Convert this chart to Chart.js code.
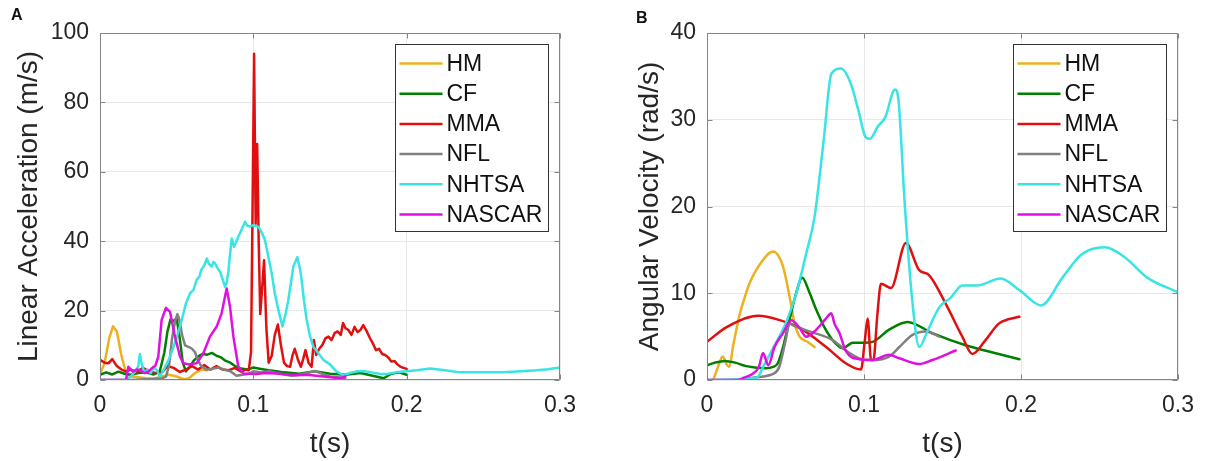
<!DOCTYPE html>
<html><head><meta charset="utf-8">
<script src="https://cdn.jsdelivr.net/npm/chart.js@4.4.1/dist/chart.umd.min.js"></script>
<style>
html,body{margin:0;padding:0;background:#fff;}
#wrap{position:relative;width:1206px;height:461px;overflow:hidden;background:#fff;}
canvas{position:absolute;top:0;}
#cA{left:0;}
#cB{left:603px;}
.lab{position:absolute;font:bold 16px "Liberation Sans",Arial,sans-serif;color:#111;}
</style></head><body>
<div id="wrap">
<canvas id="cA" width="603" height="461"></canvas>
<canvas id="cB" width="603" height="461"></canvas>
<div class="lab" style="left:11px;top:6px">A</div>
<div class="lab" style="left:636px;top:9px">B</div>
</div>
<script>
// ---------- categories / labels ----------
const seriesNames = ['HM','CF','MMA','NFL','NHTSA','NASCAR'];
const seriesColors = ['#EDB120','#007F00','#E01010','#808080','#38E4E4','#E010E0'];
const xTickVals = [0, 0.1, 0.2, 0.3];
const xTickLabels = ['0','0.1','0.2','0.3'];
const yTickValsA = [0,20,40,60,80,100];
const yTickLabelsA = ['0','20','40','60','80','100'];
const yTickValsB = [0,10,20,30,40];
const yTickLabelsB = ['0','10','20','30','40'];

// ---------- Panel A: linear acceleration [t, value] ----------
const hmA = [[0,1.5],[0.003,5],[0.006,12],[0.0085,15.5],[0.011,14],[0.014,7],[0.017,2],[0.02,1],[0.025,0.8],[0.03,0.5],[0.035,0.3],[0.04,1],[0.045,1.5],[0.05,1],[0.055,0.2],[0.058,0.5],[0.062,2],[0.066,3],[0.07,2.8]];
const cfA = [[0,1.5],[0.004,2.2],[0.008,1.6],[0.012,2.4],[0.016,1.8],[0.02,1.5],[0.025,2],[0.03,2.2],[0.035,1.6],[0.039,2.5],[0.042,8],[0.044,14],[0.046,17.5],[0.048,17],[0.05,17.8],[0.052,12],[0.054,5],[0.056,2.5],[0.058,3.5],[0.061,5.5],[0.064,6.8],[0.067,7.5],[0.07,7.3],[0.073,7.8],[0.076,7],[0.079,6.5],[0.082,5.5],[0.085,5],[0.088,4],[0.092,3.3],[0.096,3],[0.1,3.6],[0.105,3.2],[0.11,2.8],[0.115,2.5],[0.12,2.2],[0.13,1.8],[0.14,2.5],[0.15,1.8],[0.16,1.5],[0.17,2],[0.175,1.5],[0.18,1],[0.185,0.5],[0.19,1.8],[0.195,2.2],[0.2,1.5]];
const mmaA = [[0,5.8],[0.003,5],[0.0055,4.8],[0.008,6],[0.011,4],[0.014,3],[0.017,2.5],[0.02,3],[0.024,2.3],[0.028,3.5],[0.032,2.5],[0.036,2],[0.04,2],[0.044,4],[0.048,3.5],[0.052,2.3],[0.056,3],[0.06,4],[0.064,3],[0.068,4.3],[0.072,3],[0.076,4],[0.08,3],[0.084,2.8],[0.088,3.5],[0.092,2.4],[0.095,3],[0.097,2.8],[0.0985,8],[0.0995,50],[0.1005,94],[0.1015,45],[0.1025,68],[0.1035,40],[0.1045,19],[0.1055,25],[0.107,34.5],[0.1085,15],[0.11,5],[0.112,7],[0.114,13],[0.116,16],[0.118,10],[0.12,5],[0.122,4],[0.124,3.8],[0.1255,7],[0.127,9],[0.129,6],[0.131,3.8],[0.1325,6],[0.134,8.6],[0.136,5],[0.138,3.8],[0.1395,11.5],[0.141,7.2],[0.143,9],[0.145,10.1],[0.147,12],[0.149,12.5],[0.151,11.5],[0.153,13.5],[0.155,14],[0.157,13],[0.1585,16.4],[0.16,15],[0.162,14.4],[0.164,13],[0.166,15.3],[0.168,13.8],[0.17,14.5],[0.1717,15.8],[0.174,14],[0.176,12.1],[0.178,10.5],[0.18,8.6],[0.182,9],[0.184,7.5],[0.186,7.2],[0.188,6.5],[0.19,5.3],[0.192,5.5],[0.194,4.5],[0.196,3.8],[0.198,3.5],[0.2,3.2]];
const nflA = [[0,0],[0.02,0],[0.03,0.2],[0.04,0.4],[0.043,1],[0.045,4],[0.047,12],[0.049,17],[0.0505,19],[0.052,17],[0.0535,13],[0.0555,10],[0.058,9.5],[0.06,9],[0.062,8],[0.0635,6],[0.066,4],[0.0695,3],[0.073,3.2],[0.077,3.6],[0.081,3],[0.085,2.5],[0.089,1.2],[0.093,1.5],[0.097,1.8],[0.1,2.5],[0.105,2.2],[0.11,2.5],[0.115,2],[0.12,1.6],[0.125,1.2],[0.13,1.5],[0.135,2],[0.14,2.6],[0.145,1.8],[0.15,1],[0.155,0.8],[0.16,0.6]];
const nhtsaA = [[0,0],[0.017,0],[0.02,1],[0.023,2.5],[0.025,4],[0.026,7.5],[0.027,5],[0.029,2],[0.031,3],[0.033,2],[0.035,3.5],[0.037,2.9],[0.039,1],[0.041,2.5],[0.0425,3.8],[0.045,6],[0.048,9.6],[0.0505,13],[0.0533,17.3],[0.056,22],[0.0587,25],[0.061,26],[0.063,28.8],[0.065,30],[0.066,31.7],[0.068,33],[0.0696,35],[0.071,33.5],[0.0728,32.7],[0.074,34],[0.075,33.6],[0.077,32],[0.0783,31.2],[0.08,29],[0.0815,26.9],[0.0826,28],[0.0837,31.2],[0.085,37],[0.0859,40.8],[0.0874,38.4],[0.089,40],[0.0902,41.3],[0.092,43],[0.0946,45.6],[0.096,44.5],[0.0978,44.2],[0.1,44.6],[0.1033,44.2],[0.1055,42.5],[0.1076,40.3],[0.11,35],[0.112,30.7],[0.114,25],[0.1163,20.2],[0.119,15.4],[0.121,19],[0.1228,23],[0.1245,28],[0.1261,32.7],[0.1287,35.4],[0.1305,32],[0.1315,28.8],[0.133,23],[0.1348,17.3],[0.137,12.5],[0.1391,9.6],[0.142,8],[0.1457,5.8],[0.15,4.5],[0.1543,2.4],[0.1587,1.4],[0.163,2],[0.168,2.5],[0.172,2.6],[0.177,2.2],[0.182,1.8],[0.187,1.7],[0.193,2.2],[0.2,2.5],[0.208,2.9],[0.2152,3.3],[0.225,2.8],[0.2348,2.2],[0.25,2.2],[0.263,2.2],[0.275,2.5],[0.2848,2.8],[0.292,3.1],[0.3,3.6]];
const nascarA = [[0,0],[0.017,0],[0.0185,3.8],[0.0215,2.4],[0.024,3],[0.026,2.9],[0.029,2],[0.0315,2.4],[0.0348,3.8],[0.036,4],[0.038,6.7],[0.0402,17.3],[0.043,20.8],[0.0457,19.6],[0.0489,12.5],[0.0522,6.7],[0.0545,4.8],[0.058,4.5],[0.063,4.8],[0.0674,7.7],[0.0717,12.5],[0.0761,15.4],[0.0793,19.2],[0.0826,26.4],[0.0848,21.1],[0.087,12.5],[0.0902,3.8],[0.0935,1.9],[0.098,1.8],[0.102,1.7],[0.108,2],[0.115,1.9],[0.122,1.6],[0.128,1.4],[0.135,1.5],[0.1457,1],[0.1565,0.5],[0.16,1]];

// ---------- Panel B: angular velocity [t, value] ----------
const hmB = [[0.004,0],[0.007,1.5],[0.01,2.7],[0.0125,1.8],[0.0142,1.5],[0.0167,4],[0.021,7.7],[0.024,9.5],[0.027,11.1],[0.0347,13.6],[0.0421,14.8],[0.0484,13.1],[0.0526,9.6],[0.0558,6.5],[0.059,5],[0.064,4.4],[0.0685,3.8]];
const cfB = [[0,1.7],[0.005,2.0],[0.0114,2.2],[0.018,2.0],[0.025,1.6],[0.0378,1.35],[0.042,1.5],[0.045,1.9],[0.048,3.5],[0.052,6.5],[0.056,9.5],[0.0607,11.8],[0.065,10.2],[0.0696,8.1],[0.075,6],[0.08,4.6],[0.0865,3.65],[0.0928,4.3],[0.1,4.3],[0.1055,4.4],[0.116,5.8],[0.1277,6.7],[0.1435,5.4],[0.1647,4.0],[0.1858,3.0],[0.199,2.4]];
const mmaB = [[0,4.4],[0.0125,6.1],[0.0326,7.4],[0.0463,6.9],[0.059,6.0],[0.0759,3.8],[0.0886,1.9],[0.0981,1.2],[0.1005,4.5],[0.1023,7.1],[0.1045,2.3],[0.106,2.3],[0.1085,7.5],[0.1108,11.1],[0.1172,10.6],[0.1267,15.8],[0.135,12.7],[0.1414,12.1],[0.152,8.8],[0.1626,5.0],[0.169,3.0],[0.1774,4.6],[0.1858,6.5],[0.192,7.0],[0.199,7.3]];
const nflB = [[0,0],[0.02,0],[0.03,0.3],[0.042,0.7],[0.046,1.5],[0.05,4.5],[0.0526,6.5],[0.0548,6.3],[0.0653,5.6],[0.08,4.6],[0.0907,3.1],[0.097,2.5],[0.105,2.3],[0.116,2.7],[0.1225,3.8],[0.1309,5.2],[0.1394,5.6],[0.1478,5.0]];
const nhtsaB = [[0,0],[0.032,0.3],[0.0357,1.5],[0.041,3.3],[0.0505,6.7],[0.0569,10.0],[0.0632,14.6],[0.0685,18.8],[0.0743,27.6],[0.0792,35.3],[0.0854,35.9],[0.0915,34.2],[0.0964,31.1],[0.101,28],[0.1038,27.8],[0.1087,29.2],[0.1136,30.3],[0.1197,33.5],[0.122,32.2],[0.1258,20.7],[0.1307,9.2],[0.1352,3.8],[0.1406,5.7],[0.148,8.4],[0.1553,9.5],[0.1626,10.9],[0.1724,10.9],[0.187,11.7],[0.1994,10.3],[0.2129,8.6],[0.2264,11.8],[0.2387,14.5],[0.2534,15.3],[0.2657,14.2],[0.2804,11.8],[0.3,10.1]];
const nascarB = [[0,0],[0.019,0],[0.024,0.3],[0.029,0.7],[0.033,1.5],[0.0357,3.1],[0.039,1.7],[0.043,3.8],[0.0484,5.4],[0.0537,6.9],[0.059,6.0],[0.0632,5.0],[0.0685,5.6],[0.0759,7.1],[0.0791,7.7],[0.0812,6.5],[0.0844,5.4],[0.0886,3.3],[0.097,2.4],[0.1055,2.3],[0.116,2.9],[0.1225,2.5],[0.135,1.85],[0.1435,2.3],[0.1584,3.4]];

const FONT = '"Liberation Sans", Arial, Helvetica, sans-serif';
const TXT = '#262626';

const framePlugin = {
  id: 'frameLegend',
  afterDraw(chart) {
    const {ctx, chartArea: a, scales: {x, y}} = chart;
    ctx.save();
    const L = Math.round(a.left) + 0.5, R = Math.round(a.right) - 0.5;
    const T = Math.round(a.top) + 0.5, B = Math.round(a.bottom) - 0.5;
    ctx.strokeStyle = '#858585';
    ctx.lineWidth = 1;
    ctx.beginPath();
    ctx.rect(L, T, R - L, B - T);
    x.ticks.forEach(t => {
      const px = Math.round(x.getPixelForValue(t.value)) + 0.5;
      ctx.moveTo(px, B); ctx.lineTo(px, B - 5);
      ctx.moveTo(px, T); ctx.lineTo(px, T + 5);
    });
    y.ticks.forEach(t => {
      const py = Math.round(y.getPixelForValue(t.value)) + 0.5;
      ctx.moveTo(L, py); ctx.lineTo(L + 5, py);
      ctx.moveTo(R, py); ctx.lineTo(R - 5, py);
    });
    ctx.stroke();
    // legend box
    const bw = 153, bh = 187;
    const bx = Math.round(a.right - 12 - bw) + 0.5, by = Math.round(a.top + 11) + 0.5;
    ctx.fillStyle = '#fff';
    ctx.fillRect(bx, by, bw, bh);
    ctx.strokeStyle = '#333';
    ctx.strokeRect(bx, by, bw, bh);
    ctx.font = '23px ' + FONT;
    ctx.textBaseline = 'middle';
    ctx.textAlign = 'left';
    seriesNames.forEach((n, i) => {
      const ry = by + 19 + i * 30.2;
      ctx.strokeStyle = seriesColors[i];
      ctx.lineWidth = 2.5;
      ctx.beginPath();
      ctx.moveTo(bx + 4, ry); ctx.lineTo(bx + 47, ry);
      ctx.stroke();
      ctx.fillStyle = '#111';
      ctx.fillText(n, bx + 51, ry + 1);
    });
    ctx.restore();
  }
};

function makeChart(id, seriesList, yMax, yTicks, yLabels, yTitle, yTitlePad, yWidth, padRight, smooth) {
  const datasets = seriesList.map((s, i) => ({
    label: seriesNames[i],
    data: s.map(p => ({x: p[0], y: p[1]})),
    borderColor: seriesColors[i],
    backgroundColor: seriesColors[i],
    borderWidth: 2.5,
    pointRadius: 0,
    fill: false,
    tension: smooth ? 0.4 : 0,
    cubicInterpolationMode: smooth ? 'monotone' : 'default',
    borderJoinStyle: 'round',
    borderCapStyle: 'round',
    order: seriesList.length - i
  }));
  return new Chart(document.getElementById(id), {
    type: 'line',
    data: {datasets},
    plugins: [framePlugin],
    options: {
      responsive: false,
      animation: false,
      devicePixelRatio: 1,
      layout: {padding: {left: 0, top: 33, right: padRight, bottom: 0}},
      plugins: {legend: {display: false}, tooltip: {enabled: false}},
      scales: {
        x: {
          type: 'linear', min: 0, max: 0.3,
          afterBuildTicks: s => { s.ticks = xTickVals.map(v => ({value: v})); },
          afterFit: s => { s.height = 81; },
          ticks: {callback: (v, i) => xTickLabels[i], font: {family: FONT, size: 23}, color: TXT, padding: 12, maxRotation: 0, autoSkip: false},
          grid: {color: '#e8e8e8', drawTicks: false, lineWidth: 1},
          border: {display: false},
          title: {display: true, text: 't(s)', font: {family: FONT, size: 28}, color: TXT, padding: {top: 0, bottom: 0}}
        },
        y: {
          type: 'linear', min: 0, max: yMax,
          afterBuildTicks: s => { s.ticks = yTicks.map(v => ({value: v})); },
          afterFit: s => { s.width = yWidth; },
          ticks: {callback: (v, i) => yLabels[i], font: {family: FONT, size: 23}, color: TXT, padding: 11, autoSkip: false},
          grid: {color: '#e8e8e8', drawTicks: false, lineWidth: 1},
          border: {display: false},
          title: {display: true, text: yTitle, font: {family: FONT, size: 28}, color: TXT, padding: {top: yTitlePad, bottom: 0}}
        }
      }
    }
  });
}

makeChart('cA', [hmA, cfA, mmaA, nflA, nhtsaA, nascarA], 100, yTickValsA, yTickLabelsA, 'Linear Acceleration (m/s)', 12, 100, 43, false);
makeChart('cB', [hmB, cfB, mmaB, nflB, nhtsaB, nascarB], 40, yTickValsB, yTickLabelsB, 'Angular Velocity (rad/s)', 30, 104, 25, true);
</script>
</body></html>
